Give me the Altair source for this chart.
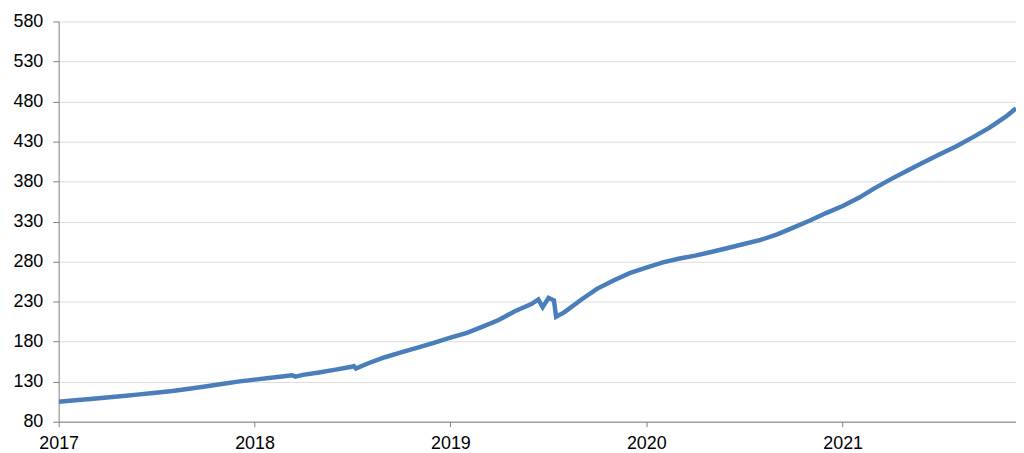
import altair as alt
import pandas as pd

dates = [
    "2017-01-01", "2017-02-01", "2017-03-01", "2017-04-01", "2017-05-01", "2017-06-01",
    "2017-07-01", "2017-08-01", "2017-09-01", "2017-10-01", "2017-11-01", "2017-12-01",
    "2018-01-01", "2018-02-01", "2018-03-01", "2018-03-12", "2018-03-18", "2018-04-01",
    "2018-05-01", "2018-06-01", "2018-07-01", "2018-07-05", "2018-07-09", "2018-08-01",
    "2018-09-01", "2018-10-01", "2018-11-01", "2018-12-01",
    "2019-01-01", "2019-02-01", "2019-03-01", "2019-04-01", "2019-05-01", "2019-06-01",
    "2019-06-14", "2019-06-22", "2019-07-03", "2019-07-13", "2019-07-17", "2019-08-01",
    "2019-09-01", "2019-10-01", "2019-11-01", "2019-12-01",
    "2020-01-01", "2020-02-01", "2020-03-01", "2020-04-01", "2020-05-01", "2020-06-01",
    "2020-07-01", "2020-08-01", "2020-09-01", "2020-10-01", "2020-11-01", "2020-12-01",
    "2021-01-01", "2021-02-01", "2021-03-01", "2021-04-01", "2021-05-01", "2021-06-01",
    "2021-07-01", "2021-08-01", "2021-09-01", "2021-10-01", "2021-11-01", "2021-11-20",
]
values = [
    105.0, 106.7, 108.4, 110.2, 112.1, 114.1,
    116.2, 118.4, 121.2, 124.0, 127.0, 130.0,
    132.5, 134.8, 137.0, 138.0, 136.3, 138.5,
    141.5, 145.0, 148.6, 149.5, 146.5, 153.0,
    160.5, 166.5, 172.5, 178.5,
    185.0, 191.0, 198.5, 207.0, 218.0, 227.0,
    232.8, 223.0, 234.7, 231.5, 211.0, 216.5,
    232.0, 246.0, 256.5, 265.5,
    272.5, 279.0, 283.5, 287.5, 292.0, 297.0,
    302.0, 307.0, 314.0, 322.5, 331.4, 340.6,
    349.5, 360.0, 371.5, 383.0, 393.5, 404.0,
    414.0, 424.0, 435.5, 447.0, 461.0, 471.5,
]
y_ticks = [80, 130, 180, 230, 280, 330, 380, 430, 480, 530, 580]
x_years = [2017, 2018, 2019, 2020, 2021]

df = pd.DataFrame({"date": pd.to_datetime(dates), "value": values})

chart = (
    alt.Chart(df)
    .mark_line(color="#4a7ebb", strokeWidth=4.5, clip=True)
    .encode(
        x=alt.X(
            "date:T",
            title=None,
            scale=alt.Scale(
                domain=[
                    alt.DateTime(year=2017, month=1, date=1),
                    alt.DateTime(year=2021, month=11, date=20),
                ]
            ),
            axis=alt.Axis(
                values=[alt.DateTime(year=y, month=1, date=1) for y in x_years],
                format="%Y",
                grid=False,
                labelAngle=0,
                labelFlush=False,
                labelFontSize=18,
                labelColor="#000000",
                labelPadding=8,
                domainColor="#808080",
                tickColor="#808080",
                tickSize=5,
            ),
        ),
        y=alt.Y(
            "value:Q",
            title=None,
            scale=alt.Scale(domain=[80, 580], nice=False, zero=False),
            axis=alt.Axis(
                values=y_ticks,
                grid=True,
                gridColor="#dcdcdc",
                labelFontSize=18,
                labelColor="#000000",
                labelPadding=10,
                domainColor="#808080",
                tickColor="#808080",
                tickSize=6,
            ),
        ),
    )
    .properties(
        width=964,
        height=403,
        padding={"left": 4, "top": 3, "right": 0, "bottom": 0},
    )
    .configure_view(stroke=None)
)

chart.save("out.html", embed_options={"renderer": "svg", "actions": False})
